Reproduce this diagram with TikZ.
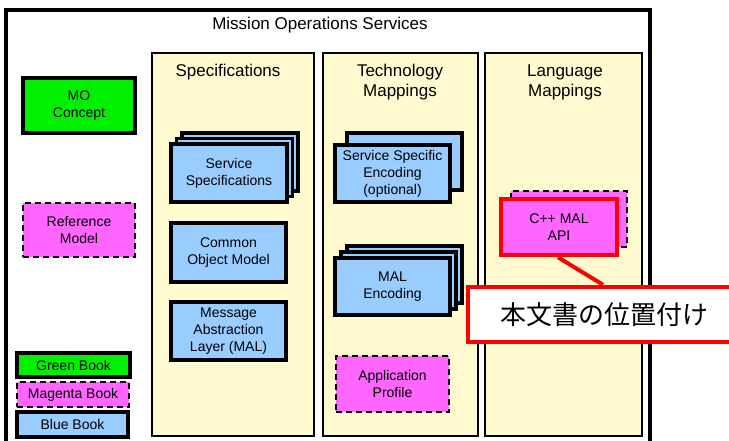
\documentclass[tikz,border=0pt]{standalone}
\usepackage{fontspec}
\setmainfont{Liberation Sans}
\newfontfamily\cjk{Noto Sans CJK JP}
\usetikzlibrary{shadows}
\definecolor{cream}{RGB}{255,250,208}
\definecolor{bluefill}{RGB}{153,204,255}
\definecolor{greenfill}{RGB}{0,240,0}
\definecolor{magfill}{RGB}{255,102,255}
\definecolor{redline}{RGB}{255,0,0}
\tikzset{
  column/.style={draw=black, line width=2pt, fill=cream},
  hdr/.style={font=\fontsize{17}{20}\selectfont, align=center, inner sep=0pt},
  boxbase/.style={font=\fontsize{14}{17}\selectfont, align=center, inner sep=1pt, text=black},
  bluebox/.style={boxbase, draw=black, line width=3.5pt, fill=bluefill, minimum width=115pt, minimum height=57pt},
  greenbox/.style={boxbase, draw=black, line width=3.5pt, fill=greenfill},
  magbox/.style={boxbase, draw=black, line width=2.5pt, dash pattern=on 6pt off 4pt, fill=magfill},
  redbox/.style={boxbase, draw=redline, line width=4.5pt, fill=magfill},
}
\begin{document}
\begin{tikzpicture}[x=1pt,y=-1pt]
\useasboundingbox (0,0) rectangle (729,440);
\clip (0,0) rectangle (729,440);
% outer frame
\draw[line width=3.5pt, fill=white] (6,10) rectangle (650,470);
\node[hdr] (title) at (320,25) {Mission Operations Services};
% columns
\draw[column] (152,53) rectangle (314,436);
\draw[column] (323,53) rectangle (478,436);
\draw[column] (485,53) rectangle (642,436);
\node[hdr] (specs) at (228,72) {Specifications};
\node[hdr] (tech) at (400,82) {Technology\\Mappings};
\node[hdr] (lang) at (565,82) {Language\\Mappings};
% left
\node[greenbox, minimum width=112pt, minimum height=55pt] (mo) at (79,105.5) {MO\\Concept};
\node[magbox, minimum width=112pt, minimum height=54pt] (ref) at (79,230) {Reference\\Model};
\node[greenbox, minimum width=113pt, minimum height=24pt] (gb) at (73.5,365) {Green Book};
\node[magbox, minimum width=112pt, minimum height=25pt] (mb) at (73,394.5) {Magenta Book};
\node[bluebox, minimum width=111pt, minimum height=25pt] (bb) at (72.5,424.5) {Blue Book};
% specifications
\node[bluebox, minimum width=116pt, minimum height=58pt,
  double copy shadow={shadow xshift=5.5pt, shadow yshift=5.5pt}] (ss) at (229,173) {Service\\Specifications};
\node[bluebox, minimum height=59pt] (com) at (228.5,252.5) {Common\\Object Model};
\node[bluebox, minimum height=58pt] (mal) at (228.5,331) {Message\\Abstraction\\Layer (MAL)};
% technology
\node[bluebox, copy shadow={shadow xshift=12pt, shadow yshift=12pt}] (sse) at (392.5,173.5) {Service Specific\\Encoding\\(optional)};
\node[bluebox, double copy shadow={shadow xshift=6pt, shadow yshift=6pt}] (male) at (392.5,286.5) {MAL\\Encoding};
\node[magbox, minimum width=113pt, minimum height=56pt] (ap) at (392.5,384) {Application\\Profile};
% language
\node[magbox, minimum width=116pt, minimum height=56pt] (cppback) at (569,219) {};
\node[redbox, minimum width=116pt, minimum height=56pt] (cpp) at (559,227) {C++ MAL\\API};
% callout
\node[draw=redline, line width=4.5pt, fill=white, minimum width=272pt, minimum height=55pt,
  font=\cjk\fontsize{26}{30}\selectfont, inner sep=0pt] (call) at (604,314.5) {本文書の位置付け};
\draw[redline, line width=4pt] (cpp.-92) -- (call.92);
\end{tikzpicture}
\end{document}
